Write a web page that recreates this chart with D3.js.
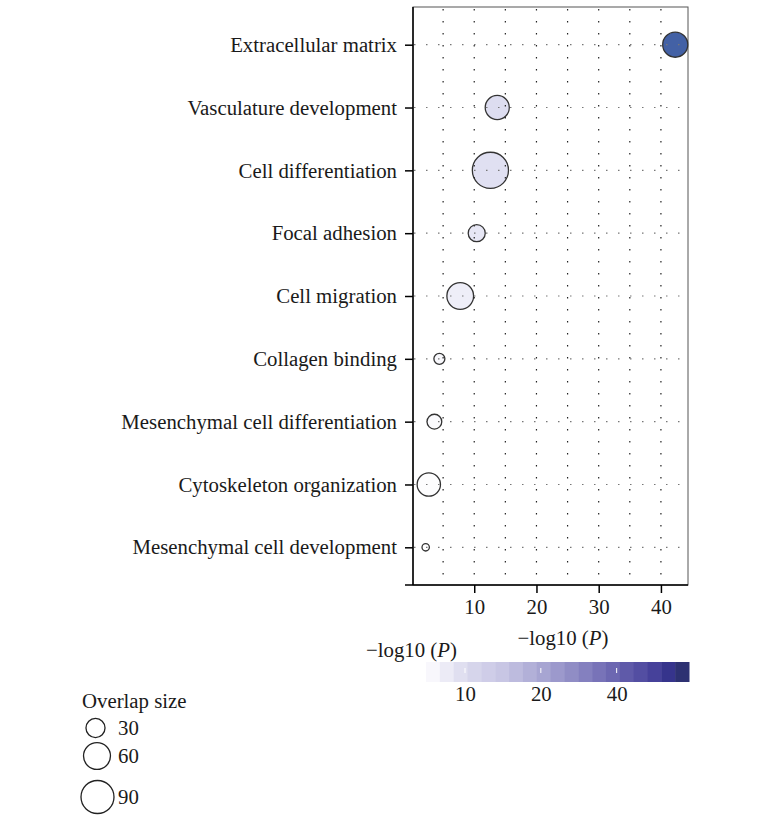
<!DOCTYPE html>
<html>
<head>
<meta charset="utf-8">
<script src="https://cdn.jsdelivr.net/npm/d3@7"></script>
<style>
  body { margin: 0; background: #fff; }
  svg text { font-family: "Liberation Serif", "DejaVu Serif", serif; fill: #1a1a1a; }
</style>
</head>
<body>
<svg class="chart"></svg>
<script>
var terms = ["Extracellular matrix", "Vasculature development", "Cell differentiation",
  "Focal adhesion", "Cell migration", "Collagen binding",
  "Mesenchymal cell differentiation", "Cytoskeleton organization", "Mesenchymal cell development"];
var logP = [42.3, 13.7, 12.6, 10.4, 7.75, 4.4, 3.6, 2.7, 2.2];
var overlap = [52, 48, 108, 24, 59, 10, 18, 45, 4.5];
var xTicks = [10, 20, 30, 40];
var legendSizes = [30, 60, 90];
var barTicks = [10, 20, 40];

var width = 761, height = 822;
var fs = "20.8px";
var svg = d3.select(".chart").attr("width", width).attr("height", height);

var x = d3.scaleLinear().domain([0, 44.35]).range([412, 688]);
var y = d3.scalePoint().domain(terms).range([7, 585]).padding(0.6);
var r = d3.scaleSqrt().domain([0, 90]).range([0, 16.5]);
var fill = d3.scaleLinear().domain([2, 14, 43]).range(["#ffffff", "#dcdcf0", "#3f5ea3"]);

// panel border (top / right grey)
svg.append("rect")
  .attr("x", 413).attr("y", 7).attr("width", 275).attr("height", 578)
  .attr("fill", "none").attr("stroke", "#555").attr("stroke-width", 1);

// points
svg.selectAll("circle.pt").data(terms).enter().append("circle")
  .attr("class", "pt")
  .attr("cx", function(d, i){ return x(logP[i]); })
  .attr("cy", function(d){ return y(d); })
  .attr("r", function(d, i){ return r(overlap[i]); })
  .attr("fill", function(d, i){ return fill(logP[i]); })
  .attr("stroke", "#333").attr("stroke-width", 1.3);

// dotted grid drawn over the points
svg.selectAll("line.vg").data(d3.range(5, 45, 5)).enter().append("line")
  .attr("x1", function(d){ return x(d); }).attr("x2", function(d){ return x(d); })
  .attr("y1", 9).attr("y2", 585)
  .attr("stroke", "#222").attr("stroke-width", 1.2)
  .attr("stroke-dasharray", "1.5,10.5");
svg.selectAll("line.hg").data(terms).enter().append("line")
  .attr("x1", 414).attr("x2", 688)
  .attr("y1", function(d){ return y(d); }).attr("y2", function(d){ return y(d); })
  .attr("stroke", "#777").attr("stroke-width", 1.2)
  .attr("stroke-dasharray", "1.5,10.5");

// axes
var yAxis = d3.axisLeft(y).tickSize(8).tickPadding(8);
var yg = svg.append("g").attr("transform", "translate(413,0)").call(yAxis);
yg.select(".domain").remove();
yg.append("line").attr("x1", 0).attr("x2", 0).attr("y1", 7).attr("y2", 585).attr("stroke", "#000").attr("stroke-width", 1.5);
yg.selectAll("text").style("font-size", fs).attr("fill", "#1a1a1a");
yg.selectAll(".tick line").attr("stroke-width", 1.5);

var xAxis = d3.axisBottom(x).tickValues(xTicks).tickSize(8).tickPadding(6);
var xg = svg.append("g").attr("transform", "translate(0,585)").call(xAxis);
xg.select(".domain").remove();
xg.append("line").attr("x1", 405).attr("x2", 688).attr("y1", 0).attr("y2", 0).attr("stroke", "#000").attr("stroke-width", 1.5);
xg.selectAll("text").style("font-size", fs).attr("fill", "#1a1a1a");
xg.selectAll(".tick line").attr("stroke-width", 1.5);

var t1 = svg.append("text").attr("x", 563).attr("y", 645).attr("text-anchor", "middle").style("font-size", fs);
t1.append("tspan").text("\u2212log10 (");
t1.append("tspan").style("font-style", "italic").text("P");
t1.append("tspan").text(")");

// colour bar
var barColors = ["#f8f7fc", "#ecebf6", "#e0dff0", "#d6d5eb", "#cfcde8", "#c8c6e4", "#bdbbde",
  "#b2b0d8", "#a7a5d2", "#9c99cc", "#908dc5", "#8480bf", "#7873b8", "#6c67b1", "#5f5aa9",
  "#534ea2", "#46419a", "#36348c", "#2d3172"];
var bx = d3.scaleLog().domain([7, 77.5]).range([426, 689]);
var segW = (689 - 426) / barColors.length;
svg.selectAll("rect.seg").data(barColors).enter().append("rect")
  .attr("x", function(d, i){ return 426 + i * segW; })
  .attr("y", 662).attr("width", segW + 0.5).attr("height", 20)
  .attr("fill", function(d){ return d; });
var bAxis = d3.axisBottom(bx).tickValues(barTicks).tickFormat(d3.format("d")).tickSize(0).tickPadding(4);
var bg = svg.append("g").attr("transform", "translate(0,682)").call(bAxis);
bg.select(".domain").remove();
bg.selectAll("text").style("font-size", fs).attr("fill", "#1a1a1a");
svg.selectAll("line.btick").data(barTicks).enter().append("line")
  .attr("x1", function(d){ return bx(d); }).attr("x2", function(d){ return bx(d); })
  .attr("y1", 668).attr("y2", 673).attr("stroke", "#fff").attr("stroke-width", 1);

var t2 = svg.append("text").attr("x", 366).attr("y", 657).style("font-size", fs);
t2.append("tspan").text("\u2212log10 (");
t2.append("tspan").style("font-style", "italic").text("P");
t2.append("tspan").text(")");

// size legend
svg.append("text").attr("x", 82).attr("y", 708).style("font-size", fs).text("Overlap size");
var legY = [728, 756, 797];
var legX = [95.5, 97, 97.5];
svg.selectAll("circle.leg").data(legendSizes).enter().append("circle")
  .attr("cx", function(d, i){ return legX[i]; })
  .attr("cy", function(d, i){ return legY[i]; })
  .attr("r", function(d){ return r(d); })
  .attr("fill", "none").attr("stroke", "#222").attr("stroke-width", 1.3);
svg.selectAll("text.leg").data(legendSizes).enter().append("text")
  .attr("x", 118)
  .attr("y", function(d, i){ return legY[i] + 7; })
  .style("font-size", fs)
  .text(function(d){ return d; });
</script>
</body>
</html>
